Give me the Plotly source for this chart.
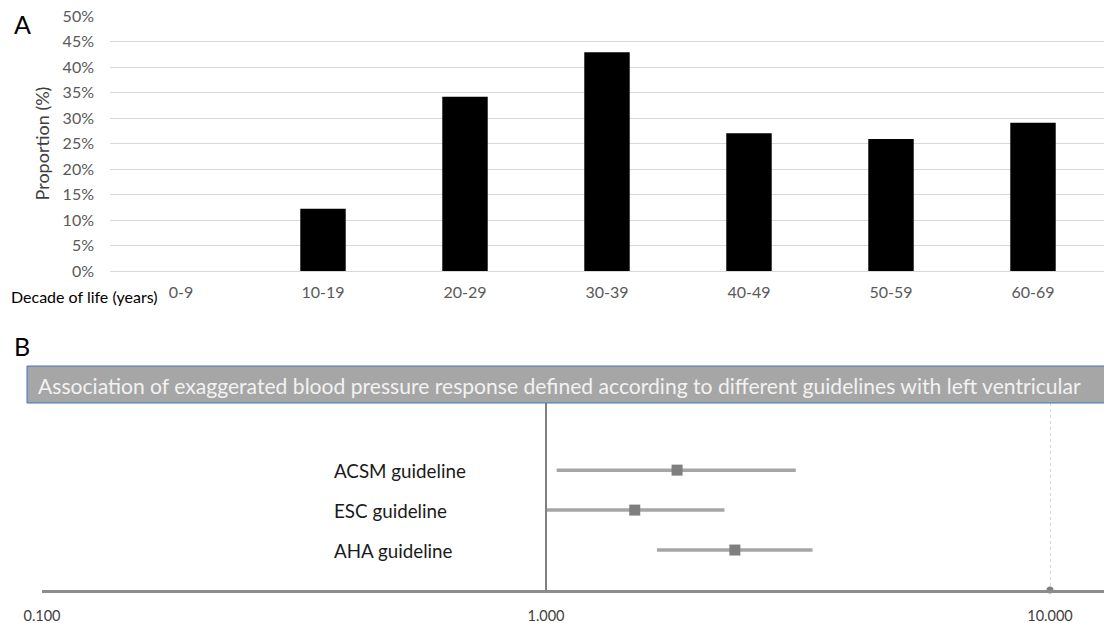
import plotly.graph_objects as go

# ---------------- Panel A data ----------------
decades = ["0-9", "10-19", "20-29", "30-39", "40-49", "50-59", "60-69"]
proportion = [0.0, 12.2, 34.2, 42.9, 27.0, 25.9, 29.1]
y_ticks_a = [0, 5, 10, 15, 20, 25, 30, 35, 40, 45, 50]
y_ticktext_a = [f"{v}%" for v in y_ticks_a]

# ---------------- Panel B data ----------------
guidelines = ["ACSM guideline", "ESC guideline", "AHA guideline"]
row_pos = [3, 2, 1]
odds_ratio = [1.82, 1.50, 2.37]
ci_low = [1.05, 0.997, 1.66]
ci_high = [3.13, 2.26, 3.38]
ref_value = 1.0
x_ticks_b = [0.1, 1.0, 10.0]
x_ticktext_b = ["0.100", "1.000", "10.000"]
axis_marker_x = [10.0]
axis_marker_y = [0]

W, H = 1112, 623
OFF = 8  # page margin of the browser
FONT = "Lato"


def px_x(p):
    return (p - OFF) / W


def px_y(p):
    return 1 - (p - OFF) / H


fig = go.Figure()

fig.add_trace(go.Bar(
    x=decades, y=proportion, marker=dict(color="#000000", line=dict(width=0)),
    xaxis="x", yaxis="y", showlegend=False,
))

err_plus = [h - o for h, o in zip(ci_high, odds_ratio)]
err_minus = [o - l for o, l in zip(odds_ratio, ci_low)]
fig.add_trace(go.Scatter(
    x=odds_ratio, y=row_pos, mode="markers",
    marker=dict(symbol="square", size=11, color="#7f7f7f"),
    error_x=dict(type="data", array=err_plus, arrayminus=err_minus,
                 color="#a6a6a6", thickness=3.5, width=0),
    xaxis="x2", yaxis="y2", showlegend=False,
))
fig.add_trace(go.Scatter(
    x=axis_marker_x, y=axis_marker_y, mode="markers",
    marker=dict(symbol="circle", size=7, color="#7f7f7f"),
    xaxis="x2", yaxis="y2", showlegend=False, cliponaxis=False,
))

# reference line at 1
fig.add_shape(type="line", xref="x2", yref="y2 domain", x0=ref_value, x1=ref_value,
              y0=0, y1=1, line=dict(color="#7f7f7f", width=2), layer="above")

# title box of panel B
fig.add_shape(type="rect", xref="paper", yref="paper",
              x0=px_x(27), x1=1.02, y0=px_y(403), y1=px_y(366),
              fillcolor="#a6a6a6", line=dict(color="#4472c4", width=1))

annotations = [
    dict(text="A", x=px_x(12), y=px_y(24), xref="paper", yref="paper",
         xanchor="left", yanchor="middle", showarrow=False,
         font=dict(family=FONT, size=25, color="#000000")),
    dict(text="B", x=px_x(12), y=px_y(346), xref="paper", yref="paper",
         xanchor="left", yanchor="middle", showarrow=False,
         font=dict(family=FONT, size=25, color="#000000")),
    dict(text="Decade of life (years)", x=px_x(9), y=px_y(296), xref="paper", yref="paper",
         xanchor="left", yanchor="middle", showarrow=False,
         font=dict(family=FONT, size=16, color="#000000")),
    dict(text="Association of exaggerated blood pressure response defined according to different guidelines with left ventricular",
         x=px_x(36), y=px_y(385), xref="paper", yref="paper",
         xanchor="left", yanchor="middle", showarrow=False,
         font=dict(family=FONT, size=21.1, color="#f2f2f2")),
]
for name, r in zip(guidelines, row_pos):
    annotations.append(dict(text=name, x=px_x(332), y=r, xref="paper", yref="y2",
                            xanchor="left", yanchor="middle", showarrow=False,
                            font=dict(family=FONT, size=18.8, color="#1a1a1a")))

fig.update_layout(
    width=W, height=H,
    margin=dict(l=0, r=0, t=0, b=0, autoexpand=False),
    paper_bgcolor="white", plot_bgcolor="white",
    bargap=0.68,
    font=dict(family=FONT),
    annotations=annotations,
    xaxis=dict(domain=[px_x(110), px_x(1104)], anchor="y",
               showgrid=False, showline=False, ticks="",
               tickfont=dict(family=FONT, size=16, color="#595959"),
               ticklabelstandoff=10, ticklabeloverflow="allow"),
    yaxis=dict(domain=[px_y(271), px_y(16)], anchor="x",
               range=[0, 50.02], tickvals=y_ticks_a, ticktext=y_ticktext_a,
               showgrid=True, gridcolor="#d9d9d9", gridwidth=1,
               zeroline=True, zerolinecolor="#d9d9d9", zerolinewidth=1,
               showline=False, ticks="",
               tickfont=dict(family=FONT, size=16, color="#595959"),
               ticklabelstandoff=15, ticklabeloverflow="allow",
               title=dict(text="Proportion (%)", standoff=8,
                          font=dict(family=FONT, size=18, color="#404040"))),
    xaxis2=dict(domain=[px_x(42), 1.0], anchor="y2", type="log",
                range=[-1, (W + OFF - 546) / 504],
                tickvals=x_ticks_b, ticktext=x_ticktext_b,
                showgrid=True, gridcolor="#d9d9d9", griddash="dot", gridwidth=1,
                showline=True, linecolor="#8c8c8c", linewidth=3,
                ticks="", zeroline=False, ticklabeloverflow="allow",
                tickfont=dict(family=FONT, size=14.5, color="#404040"),
                ticklabelstandoff=11),
    yaxis2=dict(domain=[px_y(590), px_y(403)], anchor="x2",
                range=[0, 4.68], showgrid=False, showticklabels=False,
                zeroline=False, showline=False, ticks=""),
)

fig.write_html("out.html")
